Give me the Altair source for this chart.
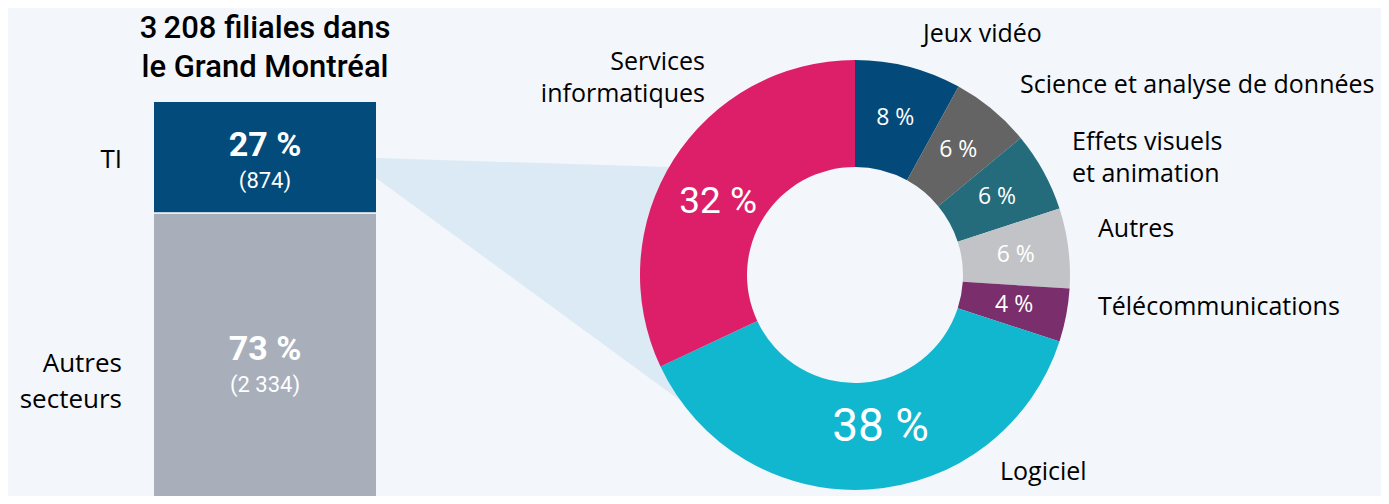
import altair as alt
import pandas as pd

# ---------------- data ----------------
titre = "3\u2009208 filiales dans\nle Grand Montréal"

bar_categories = ["TI", "Autres\nsecteurs"]
bar_counts = [874, 2334]
bar_pcts = [27, 73]
bar_counts_txt = ["(874)", "(2 334)"]

secteurs = ["Jeux vidéo", "Science et analyse de données", "Effets visuels et animation",
            "Autres", "Télécommunications", "Logiciel", "Services informatiques"]
secteur_labels = ["Jeux vidéo", "Science et analyse de données", "Effets visuels\net animation",
                  "Autres", "Télécommunications", "Logiciel", "Services\ninformatiques"]
secteur_pcts = [8, 6, 6, 6, 4, 38, 32]

# ---------------- styles / layout ----------------
BG = "#f3f6fb"
bar_colors = ["#024b7b", "#a9afba"]
secteur_colors = ["#034a7a", "#646464", "#246b7b", "#c1c3c6", "#7a2e6c", "#10b7cf", "#dc1f68"]
CONNECT = "#dbeaf4"
FONT = "Roboto"
LFONT = "Open Sans"

W, H = 1373, 488
CX, CY = 847, 267          # donut centre (plot px)
R_OUT, R_IN = 215, 108

# outer label anchors (plot px), alignment
label_x = [915, 1012, 1064, 1090, 1090, 992, 697]
label_y = [34, 85, 142, 229, 307, 472, 62]
label_align = ["left", "left", "left", "left", "left", "left", "right"]

# connector band (plot px)
conn_x = [368, 692]
conn_top = [150, 160]
conn_bot = [170, 407]

# ---------------- tables ----------------
bar_df = pd.DataFrame({"cat": bar_categories, "n": bar_counts, "pct": bar_pcts,
                       "ntxt": bar_counts_txt, "ordre": [0, 1]})
don_df = pd.DataFrame({"secteur": secteurs, "pct": secteur_pcts, "ordre": list(range(len(secteurs)))})
lab_df = pd.DataFrame({"label": secteur_labels, "x": label_x, "y": label_y, "align": label_align})
conn_df = pd.DataFrame({"x": conn_x, "y": conn_top, "y2": conn_bot})
title_df = pd.DataFrame({"t": [titre]})

# ---------------- connector ----------------
connector = alt.Chart(conn_df).mark_area(color=CONNECT).encode(
    x=alt.X("x:Q", scale=None, axis=None),
    y=alt.Y("y:Q", scale=None, axis=None),
    y2="y2:Q",
)

# ---------------- stacked bar ----------------
yscale = alt.Scale(domain=[0, sum(bar_counts)], range=[501, 94])
bar_base = alt.Chart(bar_df).transform_window(
    hi="sum(n)", sort=[alt.SortField("ordre", order="descending")], frame=[None, 0]
).transform_calculate(
    lo="datum.hi - datum.n",
    mid="(datum.hi + datum.lo) / 2",
    pcttxt="datum.pct + ' %'",
)
bars = bar_base.mark_bar().encode(
    x=alt.value(146), x2=alt.value(368),
    y=alt.Y("lo:Q", scale=yscale, axis=None), y2="hi:Q",
    color=alt.Color("cat:N", scale=alt.Scale(domain=bar_categories, range=bar_colors), legend=None),
)
sep = bar_base.transform_filter("datum.ordre == 1").mark_rule(color="white", strokeWidth=1.5).encode(
    x=alt.value(146), x2=alt.value(368), y=alt.Y("hi:Q", scale=yscale, axis=None),
)
bar_pct = bar_base.mark_text(font=FONT, fontSize=34, fontWeight="bold", color="white",
                             baseline="alphabetic", dy=-1).encode(
    x=alt.value(257), y=alt.Y("mid:Q", scale=yscale, axis=None), text="pcttxt:N")
bar_n = bar_base.mark_text(font=FONT, fontSize=22, color="white",
                           baseline="alphabetic", dy=31).encode(
    x=alt.value(257), y=alt.Y("mid:Q", scale=yscale, axis=None), text="ntxt:N")
bar_lab = bar_base.mark_text(font=LFONT, fontSize=26, color="black", align="right",
                             baseline="middle", dy=3, lineHeight=36, lineBreak="\n").encode(
    x=alt.value(114), y=alt.Y("mid:Q", scale=yscale, axis=None), text="cat:N")

title = alt.Chart(title_df).mark_text(font=FONT, fontSize=31, fontWeight=500, color="black",
                                      baseline="alphabetic", lineHeight=39, lineBreak="\n").encode(
    x=alt.value(257), y=alt.value(30), text="t:N")

# ---------------- donut ----------------
theta_scale = alt.Scale(domain=[0, 100])
arc = alt.Chart(don_df).mark_arc(outerRadius=R_OUT, innerRadius=R_IN).encode(
    theta=alt.Theta("pct:Q", stack=True, scale=theta_scale),
    order=alt.Order("ordre:Q"),
    color=alt.Color("secteur:N", scale=alt.Scale(domain=secteurs, range=secteur_colors), legend=None),
    x=alt.value(CX), y=alt.value(CY),
)
don_txt = alt.Chart(don_df).transform_window(
    cum="sum(pct)", sort=[alt.SortField("ordre")], frame=[None, 0]
).transform_calculate(mid="datum.cum - datum.pct / 2", txt="datum.pct + ' %'")

def inner_text(flt, radius, size, font, dx=0, dy=0):
    return don_txt.transform_filter(flt).mark_text(
        radius=radius, font=font, fontSize=size, color="white", align="center",
        baseline="middle", dx=dx, dy=dy).encode(
        theta=alt.Theta("mid:Q", stack=None, scale=theta_scale),
        text="txt:N", x=alt.value(CX), y=alt.value(CY))

small_txt = inner_text("datum.pct < 20", 162, 23, LFONT)
log_txt = inner_text("datum.secteur == 'Logiciel'", 152, 46, FONT, dx=16)
srv_txt = inner_text("datum.secteur == 'Services informatiques'", 155, 37, FONT, dx=-6, dy=10)

donut = alt.layer(arc, small_txt, log_txt, srv_txt)

# ---------------- outer labels ----------------
def outer(al):
    return alt.Chart(lab_df).transform_filter(f"datum.align == '{al}'").mark_text(
        font=LFONT, fontSize=25, color="black", align=al, baseline="alphabetic",
        lineHeight=32, lineBreak="\n").encode(
        x=alt.X("x:Q", scale=None, axis=None), y=alt.Y("y:Q", scale=None, axis=None), text="label:N")

labels = alt.layer(outer("left"), outer("right"))

chart = alt.layer(
    connector, bars, sep, bar_pct, bar_n, bar_lab, title, donut, labels
).resolve_scale(
    x="independent", y="independent", color="independent"
).properties(
    width=W, height=H, padding=0, background=BG,
    autosize=alt.AutoSizeParams(type="none"),
).configure_view(strokeWidth=0, fill=BG)

chart.save("out.html", embed_options={"renderer": "svg", "actions": False})
